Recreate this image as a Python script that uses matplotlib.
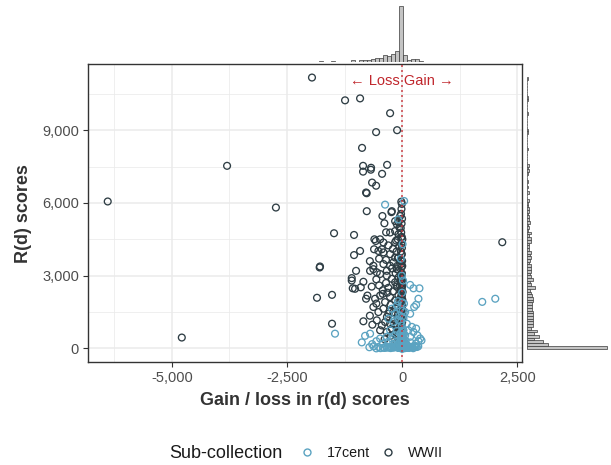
import matplotlib
matplotlib.use('Agg')
import matplotlib.pyplot as plt
import numpy as np
from matplotlib.ticker import FuncFormatter, MultipleLocator
from matplotlib.lines import Line2D

plt.rcParams['font.family'] = ['Liberation Sans', 'DejaVu Sans']

# ---------------- data ----------------
series_names = ['17cent', 'WWII']

wwii_gain = [
    -1957, -1239, -913, -261, -109, -565, -870, -3800, -848, -674, -326, -848, -435, -652, -565, -783, -770, -6391, -2740, 2174,
    -1478, -1783, -1790, -1848, -1522, -1522, -4783, -680,
    -768, -224, -43, -428, -152, -80, -115, -58, -385, -232, -1044, -348, -261, -152, -80, -22, -94, -152, -602, -572,
    -478, -406, -441, -609, -515, -406, -913, -1044, -1000, -261, -152, -80, -189, -261, -102, -28, -115, -333, -406, -696,
    -624, -550, -1094, -624, -478, -333, -224, -152, -80, -1094, -1072, -1022, -898, -841, -754, -783, -587, -478, -370, -261,
    -152, -80, -624, -515, -406, -298, -189, -841, -646, -550, -441, -370, -261, -478, -333, -224, -300, -200, -120, -350,
    -420, -500, -250, -150, -90, -330, -200, -120, -60, -50, -140, -200, -300, -120, -60, -500, -350, -700, -560, -660,
    -420, -700, -560, -160, -90, -250, -380, -120, -60, -30, -180, -270, -100, -220, -320,
    -10, -25, -5, -75, -15, 0, -20, -30, -8, -95, -12, -3, -28, -18, -120, -6, -22, -14, -33, -2,
    -26, -10, -85, -16, -4, -30, -20, -8, -24, -12, -110, -2, -18, -28, -6, -70, -14, -22, 0, -90,
    -10, -26, -4, -16, -130, -8, -20, -30, -12, -2, -24, -14, -6, -18,
    5, -18, 10, -28, 2, -12, 15, -22, 0, -8, 8, -30, -4, 12, -16, 3, -26, 6, -10, -2,
    10, -20, 0, -14, 4, -24, -6, 2, -10, 5,
]
wwii_rd = [
    11170, 10230, 10310, 9700, 9000, 8920, 8270, 7530, 7530, 7450, 7570, 7290, 7200, 6840, 6710, 6430, 6400, 6060, 5810, 4380,
    4750, 3380, 3340, 2090, 2210, 1020, 450, 7370,
    5660, 5660, 5460, 5460, 5250, 5210, 5120, 4980, 5160, 5620, 4680, 4790, 4780, 4840, 4710, 4580, 4500, 4380, 4500, 4430,
    4500, 4370, 4090, 4090, 4020, 3960, 4020, 3850, 3200, 3890, 3750, 3750, 3550, 3410, 3410, 3610, 3270, 3200, 3480, 3200,
    3270, 3140, 2900, 3410, 3070, 3000, 2870, 2730, 2930, 2800, 2480, 2460, 2520, 2750, 2180, 2050, 2050, 2180, 1910, 2120,
    1980, 2180, 1710, 1500, 1640, 1430, 1500, 1120, 980, 1160, 950, 1090, 1020, 750, 680, 820, 2500, 2350, 2550, 2700,
    2400, 2600, 1800, 1650, 1400, 1300, 1200, 900, 2000, 2600, 3100, 4100, 4250, 4000, 4200, 3700, 3650, 3600, 2850, 2550,
    2250, 1350, 1850, 600, 450, 520, 380, 250, 700, 800, 1000, 1550, 1250, 3300, 2300,
    20, 60, 100, 150, 200, 260, 320, 380, 450, 520, 600, 680, 760, 850, 940, 1030, 1120, 1220, 1320, 1420,
    1520, 1620, 1720, 1830, 1940, 2050, 2160, 2270, 2380, 2500, 2620, 2740, 2860, 2980, 3100, 3220, 3350, 3480, 3610, 3740,
    3870, 4000, 4150, 4300, 4450, 4600, 4780, 4960, 5150, 5350, 5550, 5750, 5960, 6050,
    90, 180, 280, 400, 500, 640, 720, 900, 1080, 1180, 1280, 1380, 1480, 1580, 1680, 1780, 1880, 2000, 2100, 2220,
    2330, 2450, 2560, 2680, 2800, 2920, 3050, 3400, 3900, 4500,
]

cent_gain = [
    0, 0, 0, 0, -2, 2, -4, 4, -6, 6, -8, 8, -10, 10, -12, 12, -15, 15, -18, 18,
    -20, 20, -22, 25, -25, 28, -30, 30, -33, 35, -38, -40, 0, 1, -1, 3, -3, 5, -5, 7,
    0, -3, 3, -7, 7, -11, 11, -14, 14, -17, 17, -21, 21, -26, -29, 32, -35, -42, 40, -45,
    -560, -470, -380, -330, -280, -230, -170, -130, -100, -75, -55, 45, 70, 95, 130, 170, 205, 260, 300, 350,
    -711, -515, -406, -298, -189, -115, 102, 211, 283, -620, -250, 150, -350, 60, -90, 320, -160, 240,
    0, -5, 8, -12, 3, 15, -20, 0, 10, -8, 25, -30, 0, 12, -15, 5, -3, 20, -25, 0, 8,
    2, -6, 9, -14, 18, -24, -36, 55, -70,
    -2, 4, -9, 13, -19, 24, -48, 75,
    -876, -804, -696, -1457, -478, -333, -224, -152, -43, 65, 174, 246, -261, -115, 29, 137, 391, 333, 354, -420,
    -560, 300, 180, -300, -200, 100, 420, -650,
    211, 304, -189, -80, -7, 102, -298, -224, -115, -43, -152, 65, 174, 261, 304, 0, -20, 30, -60, 10,
    0, 40, -90, 354,
    376, 246, 174, -7, 1739, 2022, -87, -370, 43, 0, 20, -30, 10,
]
cent_rd = [
    5, 30, 60, 90, 15, 45, 75, 100, 20, 55, 85, 10, 40, 70, 105, 25, 50, 80, 35, 95,
    65, 15, 100, 45, 5, 75, 30, 60, 90, 20, 50, 80, 0, 110, 40, 70, 10, 100, 60, 25,
    8, 18, 28, 38, 48, 58, 68, 78, 88, 98, 12, 22, 32, 42, 52, 62, 72, 82, 92, 102,
    3, 13, 23, 33, 43, 53, 63, 73, 83, 93, 103, 8, 18, 28, 38, 48, 58, 68, 78, 88,
    50, 60, 30, 60, 30, 80, 40, 70, 100, 90, 15, 20, 95, 100, 20, 60, 95, 10,
    130, 150, 170, 190, 210, 230, 250, 270, 300, 330, 360, 390, 420, 450, 480, 520, 560, 600, 640, 700, 750,
    115, 125, 140, 160, 175, 185, 200, 215, 220,
    120, 145, 165, 195, 230, 265, 290, 320,
    250, 520, 610, 610, 410, 480, 410, 540, 610, 540, 480, 680, 750, 720, 750, 750, 410, 540, 300, 200,
    300, 200, 250, 280, 180, 160, 330, 180,
    890, 820, 1090, 1160, 950, 1020, 1230, 1640, 1770, 1640, 1430, 1500, 1430, 1710, 1800, 1300, 1100, 1250, 1350, 1550,
    1900, 1850, 1950, 2050,
    2480, 2480, 2620, 3000, 1920, 2050, 5320, 5930, 6080, 2300, 2800, 3700, 4300,
]

x_ticks = [-5000, -2500, 0, 2500]
y_ticks = [0, 3000, 6000, 9000]

# ---------------- figure ----------------
W, H = 611, 465
fig = plt.figure(figsize=(W / 100, H / 100), dpi=100)

ax = fig.add_axes([88 / W, 1 - 362 / H, 434 / W, 298 / H])
axt = fig.add_axes([88 / W, 1 - 62 / H, 434 / W, 59 / H])
axr = fig.add_axes([527 / W, 1 - 362 / H, 84 / W, 298 / H])

c_cent = '#5ba3c1'
c_wwii = '#2e3d44'

all_x = np.array(wwii_gain + cent_gain, dtype=float)
all_y = np.array(wwii_rd + cent_rd, dtype=float)
xr = all_x.max() - all_x.min()
yr = all_y.max() - all_y.min()
xlim = (all_x.min() - 0.05 * xr, all_x.max() + 0.05 * xr)
ylim = (all_y.min() - 0.05 * yr, all_y.max() + 0.05 * yr)

ax.scatter(wwii_gain, wwii_rd, s=24, facecolors='none', edgecolors=c_wwii,
           linewidths=0.95, zorder=3)
ax.scatter(cent_gain, cent_rd, s=24, facecolors='none', edgecolors=c_cent,
           linewidths=0.95, zorder=3)
ax.axvline(0, color='#c8323a', ls=(0, (1.2, 1.8)), lw=1.2, alpha=0.85, zorder=5)
ax.text(0, 11016, '\u2190 Loss Gain \u2192', color='#c0272d', ha='center',
        va='center', fontsize=10.5, zorder=6)

ax.set_xlim(xlim)
ax.set_ylim(ylim)
ax.set_xticks(x_ticks)
ax.set_yticks(y_ticks)
ax.xaxis.set_minor_locator(MultipleLocator(1250))
ax.yaxis.set_minor_locator(MultipleLocator(1500))
fmt = FuncFormatter(lambda v, p: f'{int(round(v)):,}')
ax.xaxis.set_major_formatter(fmt)
ax.yaxis.set_major_formatter(fmt)
ax.grid(True, which='major', color='#ebebeb', lw=1.1, zorder=0)
ax.grid(True, which='minor', color='#ebebeb', lw=0.55, zorder=0)
ax.set_axisbelow(True)
ax.tick_params(which='major', length=3.5, width=0.8, color='#333333',
               labelcolor='#4d4d4d', labelsize=10.5, pad=3)
ax.tick_params(which='minor', length=0)
for sp in ax.spines.values():
    sp.set_color('#333333')
    sp.set_linewidth(1.0)

# marginal histograms
xbins = np.arange(-6415, 2300, 87)
ybins = np.arange(-5, 11300, 112)
cnt_x, _, _ = axt.hist(all_x, bins=xbins, facecolor='#c4c4c4', edgecolor='#3a3a3a', lw=0.5)
cnt_y, _, _ = axr.hist(all_y, bins=ybins, orientation='horizontal',
                       facecolor='#c4c4c4', edgecolor='#3a3a3a', lw=0.5)
axt.set_xlim(xlim)
axt.set_ylim(0, cnt_x.max() * 1.05)
axr.set_ylim(ylim)
axr.set_xlim(0, cnt_y.max() * 1.05)
for a in (axt, axr):
    a.axis('off')

# axis titles
fig.text(305 / W, 1 - 400 / H, 'Gain / loss in r(d) scores', ha='center', va='center',
         fontsize=13, fontweight='bold', color='#333333')
fig.text(24 / W, 1 - 214 / H, 'R(d) scores', ha='center', va='center', rotation=90,
         fontsize=13, fontweight='bold', color='#333333')

# legend
fig.text(169 / W, 1 - 453 / H, 'Sub-collection', ha='left', va='center',
         fontsize=13, color='#1a1a1a')
handles = [Line2D([], [], marker='o', ls='', mfc='none', mec=c_cent, ms=5, mew=1.0),
           Line2D([], [], marker='o', ls='', mfc='none', mec=c_wwii, ms=5, mew=1.0)]
fig.legend(handles, series_names, ncol=2, loc='center left',
           bbox_to_anchor=(300 / W, 1 - 453 / H), frameon=False, fontsize=10.3,
           handlelength=1.0, handletextpad=0.87, columnspacing=0.8,
           borderaxespad=0, borderpad=0, labelcolor='#1a1a1a')

fig.savefig('out.png', dpi=100)
